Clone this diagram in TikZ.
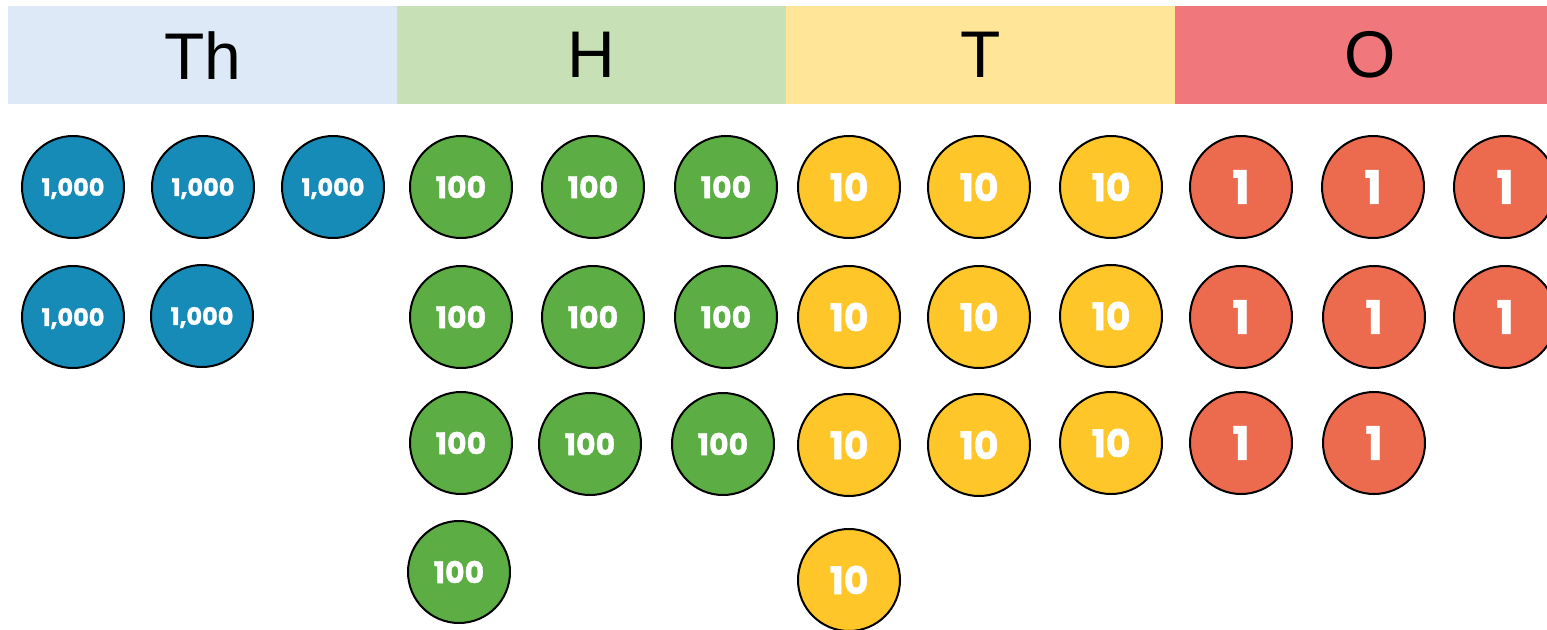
\documentclass[tikz,border=0pt]{standalone}
\usepackage{fontspec}
\setmainfont{Liberation Sans}
\newfontfamily\chipfont{Poppins}[BoldFeatures={FakeBold=1.2}]
\definecolor{thback}{HTML}{DDE9F7}
\definecolor{hback}{HTML}{C7E0B5}
\definecolor{tback}{HTML}{FFE597}
\definecolor{oback}{HTML}{F0787C}
\definecolor{thchip}{HTML}{168BB7}
\definecolor{hchip}{HTML}{5BAD44}
\definecolor{tchip}{HTML}{FFC629}
\definecolor{ochip}{HTML}{EC6B4F}

\begin{document}
\begin{tikzpicture}[x=1pt,y=-1pt]
\tikzset{place/.style = {anchor=north west, minimum width=389pt, minimum height=98pt,
    inner sep=0pt, font=\fontsize{66}{66}\selectfont}}
\tikzset{chip/.style = {circle, draw=black, line width=2pt, minimum size=102pt,
    inner sep=0pt, text depth=0pt, text=white}}
\tikzset{thou/.style = {chip, fill=thchip, font=\chipfont\bfseries\fontsize{24}{24}\selectfont}}
\tikzset{hund/.style = {chip, fill=hchip, font=\chipfont\bfseries\fontsize{30}{30}\selectfont}}
\tikzset{tens/.style = {chip, fill=tchip, font=\chipfont\bfseries\fontsize{38}{38}\selectfont}}
\tikzset{ones/.style = {chip, fill=ochip, font=\chipfont\bfseries\fontsize{46}{46}\selectfont}}
\useasboundingbox (0,0) rectangle (1547,629);
\clip (0,0) rectangle (1547,629);
% place value headings
\node [place, fill=thback] at (8,6) (Th) {Th};
\node [place, fill=hback] at (397,6) (H) {H};
\node [place, fill=tback] at (786,6) (T) {T};
\node [place, fill=oback] at (1175,6) (O) {O};
% thousands
\foreach \x/\y [count=\i] in {73/187, 203/187, 333/187, 73/317, 202/316}
  \node [thou] at (\x,\y) (th\i) {1,000};
% hundreds
\foreach \x/\y [count=\i] in {461/187, 593/187, 726/187, 461/317, 593/317, 726/317,
    461/443, 590/444, 723/444, 459/572}
  \node [hund] at (\x,\y) (h\i) {100};
% tens
\foreach \x/\y [count=\i] in {849/187, 979/187, 1111/187, 849/317, 979/317, 1111/316,
    849/445, 979/445, 1111/443, 849/580}
  \node [tens] at (\x,\y) (t\i) {10};
% ones
\foreach \x/\y [count=\i] in {1241/187, 1373/187, 1505/187, 1241/317, 1374/317, 1505/317,
    1241/443, 1374/443}
  \node [ones] at (\x,\y) (o\i) {1};
\end{tikzpicture}
\end{document}
